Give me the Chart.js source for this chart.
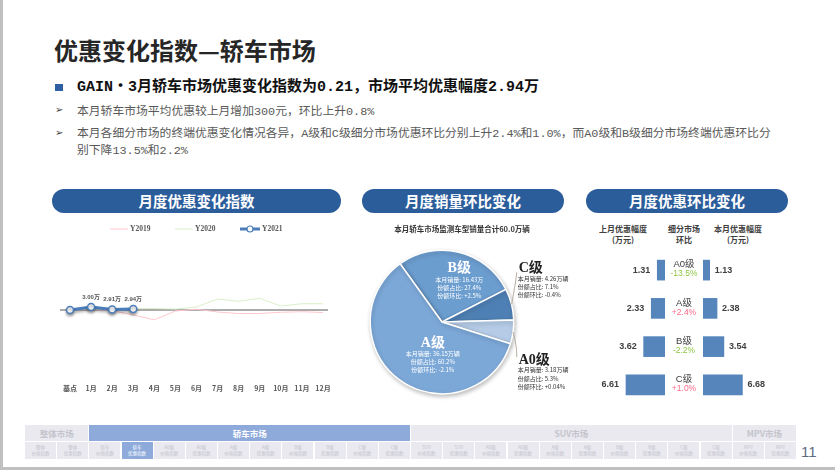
<!DOCTYPE html>
<html>
<head>
<meta charset="utf-8">
<script src="https://cdn.jsdelivr.net/npm/chart.js@4.4.1/dist/chart.umd.min.js"></script>
<style>
  body { margin:0; width:835px; height:470px; overflow:hidden; background:#fff; position:relative;
         font-family:"Noto Sans CJK SC", sans-serif; }
  .abs { position:absolute; white-space:nowrap; }
  .pill { position:absolute; top:189px; height:24px; border-radius:12px; background:#2b5d9b; color:#fff;
          font-weight:bold; font-size:14.5px; line-height:24px; text-align:center; }
  .hdr { position:absolute; top:223px; font-size:8px; font-weight:bold; color:#404040; line-height:11px;
         text-align:center; width:80px; }
  .bul { position:absolute; left:55px; font-family:"DejaVu Sans"; font-size:10px; color:#404040; }
  .txt { position:absolute; left:77px; font-family:"Liberation Mono","Noto Sans CJK SC"; font-size:11.8px; color:#595959; white-space:nowrap; }
  canvas { position:absolute; }
  .nav { position:absolute; background:#e9e9ef; color:#c4c4cc; text-align:center; overflow:hidden; }
</style>
</head>
<body>
<div class="abs" style="left:0;top:0;width:2.5px;height:470px;background:#c0c0c0"></div>
<div class="abs" style="left:0;top:467px;width:835px;height:3px;background:#c0c0c0"></div>

<div class="abs" style="left:54px;top:35px;font-size:24px;line-height:30px;font-weight:bold;color:#262626">优惠变化指数—轿车市场</div>

<div class="abs" style="left:55px;top:83.5px;width:7.5px;height:7.5px;background:#2e5fa3"></div>
<div class="abs" style="left:77px;top:78px;font-family:'Liberation Mono','Noto Sans CJK SC';font-size:15px;line-height:19px;font-weight:bold;color:#111">GAIN・3月轿车市场优惠变化指数为0.21，市场平均优惠幅度2.94万</div>

<div class="bul" style="top:104px">➢</div>
<div class="txt" style="top:103.5px;line-height:16px">本月轿车市场平均优惠较上月增加300元，环比上升0.8%</div>
<div class="bul" style="top:127px">➢</div>
<div class="txt" style="top:125.6px;line-height:17.4px">本月各细分市场的终端优惠变化情况各异，A级和C级细分市场优惠环比分别上升2.4%和1.0%，而A0级和B级细分市场终端优惠环比分<br>别下降13.5%和2.2%</div>

<div class="pill" style="left:52px;width:289px">月度优惠变化指数</div>
<div class="pill" style="left:362px;width:202px">月度销量环比变化</div>
<div class="pill" style="left:586px;width:202px">月度优惠环比变化</div>

<div class="hdr" style="left:583px">上月优惠幅度<br>(万元)</div>
<div class="hdr" style="left:644px">细分市场<br>环比</div>
<div class="hdr" style="left:698px">本月优惠幅度<br>(万元)</div>

<canvas id="lineChart" width="290" height="180" style="left:50px;top:222px"></canvas>
<canvas id="pieChart" width="220" height="185" style="left:362px;top:217px"></canvas>
<canvas id="lastChart" width="80" height="153" style="left:585px;top:251px"></canvas>
<canvas id="thisChart" width="118" height="153" style="left:665px;top:251px"></canvas>

<div id="nav"></div>
<div class="abs" style="left:801px;top:443px;font-family:'Liberation Sans';font-size:15px;color:#5b6b82">11</div>

<script>
// ---- 月度优惠变化指数 ----
var months = ["基点", "1月", "2月", "3月", "4月", "5月", "6月", "7月", "8月", "9月", "10月", "11月", "12月"];
var y2019 = [0, 0.05, -0.1, -1.0, -1.95, -0.2, 0.15, -0.4, -0.7, -0.7, -0.45, -0.35, -0.5];
var y2020 = [0, 0.2, 0.1, 0.3, 0.3, 0.2, 0.6, 2.2, 1.75, 2.35, 0.8, 1.25, 1.25];
var y2021 = [0, 0.6, 0.1, 0.21];
var y2021Labels = ["", "3.00万", "2.91万", "2.94万"];

// ---- 月度销量环比变化 ----
var pieTitle = "本月轿车市场监测车型销量合计60.0万辆";
var pieSegments = ["B级", "C级", "A0级", "A级"];
var pieSales = ["16.43万", "4.26万辆", "3.18万辆", "36.15万辆"];
var pieShare = [27.4, 7.1, 5.3, 60.2];
var pieShareChange = ["+2.5%", "-0.4%", "+0.04%", "-2.1%"];

// ---- 月度优惠环比变化 ----
var segments = ["A0级", "A级", "B级", "C级"];
var lastMonth = [1.31, 2.33, 3.62, 6.61];
var thisMonth = [1.13, 2.38, 3.54, 6.68];
var momChange = ["-13.5%", "+2.4%", "-2.2%", "+1.0%"];

// ---- 底部导航 ----
var navGroups = [["整体市场", 2], ["轿车市场", 10], ["SUV市场", 10], ["MPV市场", 2]];
var navCells = ["整体", "整体", "轿车", "轿车", "A0级", "A0级", "A级", "A级", "B级", "B级", "C级", "C级",
                "SUV", "SUV", "A0级", "A0级", "A级", "A级", "B级", "B级", "C级", "C级", "MPV", "MPV"];

Chart.defaults.animation = false;
Chart.defaults.font.family = "'Noto Sans CJK SC', sans-serif";

var lineExtras = {
  id: "lineExtras",
  beforeDatasetsDraw: function(chart) {
    var ctx = chart.ctx, area = chart.chartArea;
    var y0 = chart.scales.y.getPixelForValue(0);
    ctx.save();
    ctx.strokeStyle = "#595959";
    ctx.lineWidth = 1;
    ctx.beginPath();
    ctx.moveTo(area.left - 10, y0);
    ctx.lineTo(area.right + 5, y0);
    ctx.stroke();
    ctx.restore();
  },
  beforeDatasetDraw: function(chart, args) {
    if (args.index === 2) {
      chart.ctx.save();
      chart.ctx.shadowColor = "rgba(0,0,0,0.35)";
      chart.ctx.shadowBlur = 3;
      chart.ctx.shadowOffsetY = 2;
    }
  },
  afterDatasetDraw: function(chart, args) {
    if (args.index === 2) chart.ctx.restore();
  },
  afterDraw: function(chart) {
    var ctx = chart.ctx;
    ctx.save();
    // 数据标签
    var meta = chart.getDatasetMeta(2);
    ctx.font = "bold 6px 'Liberation Sans', 'Noto Sans CJK SC'";
    ctx.fillStyle = "#555";
    ctx.textAlign = "center";
    ctx.textBaseline = "middle";
    meta.data.forEach(function(pt, i) {
      if (y2021Labels[i]) ctx.fillText(y2021Labels[i], pt.x, pt.y - 10);
    });
    // 图例
    var items = [
      { text: "Y2019", color: "#ffc7cf", x: 60, w: 18, lw: 1, dot: false },
      { text: "Y2020", color: "#d9efc9", x: 125, w: 18, lw: 1, dot: false },
      { text: "Y2021", color: "#4a7dba", x: 190, w: 20, lw: 3, dot: true }
    ];
    var ly = 7;
    ctx.font = "bold 7.5px 'Liberation Serif'";
    ctx.textAlign = "left";
    items.forEach(function(it) {
      ctx.strokeStyle = it.color;
      ctx.lineWidth = it.lw;
      ctx.beginPath();
      ctx.moveTo(it.x, ly);
      ctx.lineTo(it.x + it.w, ly);
      ctx.stroke();
      if (it.dot) {
        ctx.fillStyle = "#fff";
        ctx.lineWidth = 1.2;
        ctx.beginPath();
        ctx.arc(it.x + it.w / 2, ly, 3, 0, Math.PI * 2);
        ctx.fill();
        ctx.stroke();
      }
      ctx.fillStyle = "#595959";
      ctx.fillText(it.text, it.x + it.w + 2, ly + 0.5);
    });
    ctx.restore();
  }
};

new Chart(document.getElementById("lineChart"), {
  type: "line",
  data: {
    labels: months,
    datasets: [
      { label: "Y2019", data: y2019, borderColor: "#ffc7cf", borderWidth: 1, pointRadius: 0, order: 2 },
      { label: "Y2020", data: y2020, borderColor: "#d9efc9", borderWidth: 1, pointRadius: 0, order: 1 },
      { label: "Y2021", data: y2021, borderColor: "#4a7dba", borderWidth: 3, pointRadius: 3.5,
        pointBackgroundColor: "#fff", pointBorderColor: "#4a7dba", pointBorderWidth: 1.5, order: 0 }
    ]
  },
  options: {
    responsive: false,
    layout: { padding: { left: 20, right: 17, top: 18, bottom: 5.6 } },
    plugins: { legend: { display: false }, tooltip: { enabled: false } },
    scales: {
      x: {
        grid: { display: false, drawTicks: false },
        border: { display: false },
        ticks: { color: "#595959", font: { size: 7, weight: "bold" }, padding: 4, maxRotation: 0, autoSkip: false }
      },
      y: { display: false, min: -14, max: 14 }
    }
  },
  plugins: [lineExtras]
});

// 饼图
var pieLabelNudge = { "B级": [8, -2], "A级": [14, 2] };
var pieExtras = {
  id: "pieExtras",
  beforeDatasetsDraw: function(chart) {
    chart.ctx.save();
    chart.ctx.shadowColor = "rgba(0,0,0,0.25)";
    chart.ctx.shadowBlur = 4;
    chart.ctx.shadowOffsetX = 1;
    chart.ctx.shadowOffsetY = 2;
  },
  afterDatasetsDraw: function(chart) {
    var ctx = chart.ctx;
    ctx.restore();
    ctx.save();
    ctx.font = "bold 7.5px 'Noto Sans CJK SC'";
    ctx.fillStyle = "#333";
    ctx.textAlign = "center";
    ctx.textBaseline = "middle";
    ctx.fillText(pieTitle, 100, 12);

    var meta = chart.getDatasetMeta(0);
    meta.data.forEach(function(arc, i) {
      var mid = (arc.startAngle + arc.endAngle) / 2;
      var r = arc.outerRadius;
      var name = pieSegments[i];
      var lines = ["本月销量: " + pieSales[i], "份额占比: " + pieShare[i].toFixed(1) + "%", "份额环比: " + pieShareChange[i]];
      if (pieShare[i] > 15) {
        var nudge = pieLabelNudge[name] || [0, 0];
        var cx = arc.x + Math.cos(mid) * r * 0.55 + nudge[0];
        var cy = arc.y + Math.sin(mid) * r * 0.55 + nudge[1];
        ctx.fillStyle = "#fff";
        ctx.textAlign = "center";
        ctx.font = "bold 14px 'Liberation Serif', 'Noto Sans CJK SC'";
        ctx.fillText(name, cx, cy - 13);
        ctx.font = "6px 'Noto Sans CJK SC'";
        lines.forEach(function(t, k) { ctx.fillText(t, cx, cy - 2 + k * 8); });
      } else {
        var ex = arc.x + Math.cos(mid) * r;
        var ey = arc.y + Math.sin(mid) * r;
        var up = Math.sin(mid) < 0.1;
        var lx = arc.x + r + 5;
        var ty = up ? ey - 36 : ey + 28;
        ctx.strokeStyle = "#a59a8c";
        ctx.lineWidth = 0.8;
        ctx.beginPath();
        ctx.moveTo(ex, ey);
        ctx.quadraticCurveTo(ex + 4, up ? ey - 20 : ey + 14, lx - 2, up ? ty + 4 : ty - 3);
        ctx.stroke();
        ctx.fillStyle = "#222";
        ctx.textAlign = "left";
        ctx.font = "bold 14px 'Liberation Serif', 'Noto Sans CJK SC'";
        ctx.fillText(name, lx, ty);
        ctx.font = "6px 'Noto Sans CJK SC'";
        ctx.fillStyle = "#333";
        lines.forEach(function(t, k) { ctx.fillText(t, lx - 1, ty + 10 + k * 8.3); });
      }
    });
    ctx.restore();
  }
};

new Chart(document.getElementById("pieChart"), {
  type: "pie",
  data: {
    labels: pieSegments,
    datasets: [{
      data: pieShare,
      backgroundColor: ["#6c9dcf", "#4f80b5", "#b5cbe6", "#7ca8d8"],
      borderColor: "#fff",
      borderWidth: 1.5
    }]
  },
  options: {
    responsive: false,
    rotation: -35.7,
    layout: { padding: { left: 7.5, right: 67.5, top: 32.5, bottom: 7.5 } },
    plugins: { legend: { display: false }, tooltip: { enabled: false } }
  },
  plugins: [pieExtras]
});

// 条形图
var barLabels = function(side) {
  return {
    id: "barLabels" + side,
    afterDatasetsDraw: function(chart) {
      var ctx = chart.ctx;
      var meta = chart.getDatasetMeta(0);
      var vals = chart.data.datasets[0].data;
      ctx.save();
      ctx.textBaseline = "middle";
      meta.data.forEach(function(bar, i) {
        ctx.font = "bold 9px 'Liberation Sans'";
        ctx.fillStyle = "#404040";
        if (side === "left") {
          ctx.textAlign = "right";
          ctx.fillText(vals[i].toFixed(2), bar.x - 7, bar.y);
        } else {
          ctx.textAlign = "left";
          ctx.fillText(vals[i].toFixed(2), bar.x + 5, bar.y);
          var mx = chart.chartArea.left - 19;
          ctx.textAlign = "center";
          ctx.font = "9.5px 'Liberation Sans', 'Noto Sans CJK SC'";
          ctx.fillStyle = "#404040";
          ctx.fillText(segments[i], mx, bar.y - 5.5);
          ctx.font = "8.5px 'Liberation Sans'";
          ctx.fillStyle = momChange[i].charAt(0) === "-" ? "#8dc63f" : "#ff6b88";
          ctx.fillText(momChange[i], mx, bar.y + 4);
        }
      });
      ctx.restore();
    }
  };
};

function barChart(id, values, reverse, padding, side) {
  return new Chart(document.getElementById(id), {
    type: "bar",
    data: {
      labels: segments,
      datasets: [{ data: values, backgroundColor: "#5585bb", barThickness: 20 }]
    },
    options: {
      responsive: false,
      indexAxis: "y",
      layout: { padding: padding },
      plugins: { legend: { display: false }, tooltip: { enabled: false } },
      scales: {
        x: { display: false, min: 0, max: 10, reverse: reverse },
        y: { display: false }
      }
    },
    plugins: [barLabels(side)]
  });
}
barChart("lastChart", lastMonth, true, { left: 21, right: 0, top: 0, bottom: 0 }, "left");
barChart("thisChart", thisMonth, false, { left: 38, right: 21, top: 0, bottom: 0 }, "right");

// 底部导航
(function() {
  var nav = document.getElementById("nav");
  var left = 25, cw = 772 / 24, html = "";
  var start = 0;
  navGroups.forEach(function(g, gi) {
    var active = gi === 1;
    html += '<div class="nav" style="left:' + (left + start * cw) + 'px;top:425px;width:' + (g[1] * cw - 1) +
      'px;height:16px;line-height:16px;font-size:8.5px;font-weight:bold;' +
      (active ? 'background:#8eaadb;color:#fff;' : '') + '">' + g[0] + '</div>';
    start += g[1];
  });
  navCells.forEach(function(c, i) {
    var active = i === 3;
    var kind = i % 2 === 0 ? "价格指数" : "优惠指数";
    html += '<div class="nav" style="left:' + (left + i * cw) + 'px;top:442px;width:' + (cw - 1) +
      'px;height:17px;font-size:4.5px;line-height:5.5px;padding-top:3px;box-sizing:border-box;' +
      (active ? 'background:#8eaadb;color:#fff;' : '') + '">' + c + '<br>' + kind + '</div>';
  });
  nav.innerHTML = html;
})();
</script>
</body>
</html>
